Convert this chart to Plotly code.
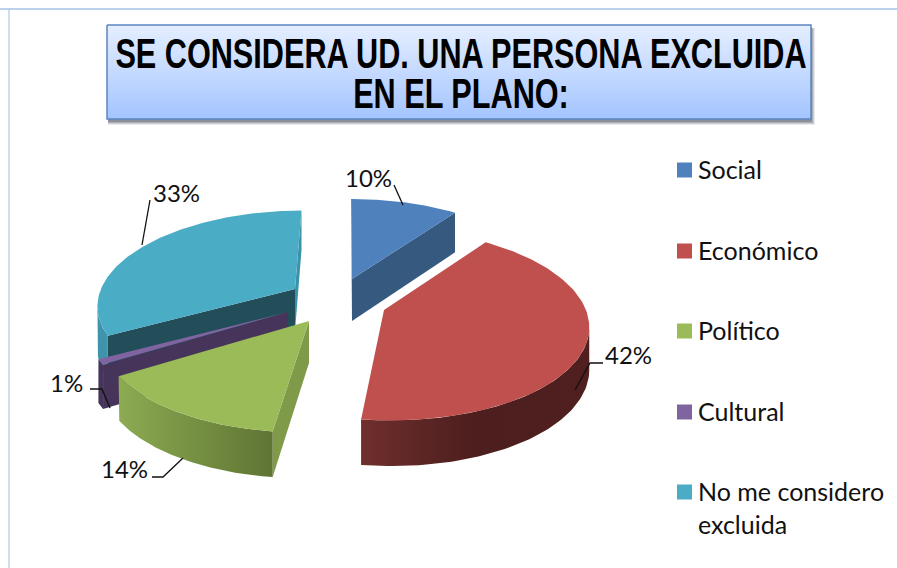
import numpy as np
import plotly.graph_objects as go

TITLE = "SE CONSIDERA UD. UNA PERSONA EXCLUIDA<br>EN EL PLANO:"
categories = ["Social", "Económico", "Político", "Cultural", "No me considero<br>excluida"]
values = [10, 42, 14, 1, 33]

# styling
top_colors = ["#4F81BD", "#C0504D", "#9BBB59", "#8064A2", "#4BACC6"]
cut_a_colors = ["#35597F", "#7A2F2D", "#7F9A49", "#46345A", "#224E5A"]
cut_b_colors = ["#35597F", "#A84441", "#7F9A49", "#46345A", "#3A93AB"]
wall_scales = [
    ["#35597F", "#35597F"],
    ["#6F2F2D", "#4C1E1D", "#4F201F"],
    ["#8CAB52", "#5F7433"],
    ["#46345A", "#46345A"],
    ["#3F93AA", "#3F93AA"],
]
# exploded slice tips on the page, and projection of the tilted disc
tips = [(352, 279), (384, 310), (309, 321), (288, 312), (295, 289)]
radius_scale = [1.0, 1.02, 1.03, 0.99, 0.98]
R, RY, K, DEPTH, XV = 198.0, 92.0, 0.15, 42.0, 345.0
FONT = "Lato, Carlito, Calibri, sans-serif"


def project(tip, theta, rs=1.0):
    front = -np.cos(theta)
    s = 1.0 / (1.0 - K * front)
    return (tip[0] + rs * R * np.sin(theta) * s + (tip[0] - XV) * (s - 1.0),
            tip[1] + rs * RY * front * s, s)


def depth_at(s):
    return DEPTH * (0.5 + 0.5 * s)


fig = go.Figure()


def poly(xs, ys, color=None, gradient=None):
    kw = dict(fillgradient=gradient) if gradient else dict(fillcolor=color)
    fig.add_trace(go.Scatter(x=list(xs), y=list(ys), mode="lines", fill="toself",
                             line=dict(width=0), hoverinfo="skip", showlegend=False, **kw))


# title box
BX0, BX1, BY0, BY1 = 107, 811, 25, 119
for off, alpha in [(6, 0.10), (5, 0.15), (4, 0.2), (3, 0.25)]:
    fig.add_shape(type="rect", x0=BX0 + 1, x1=BX1 + off - 2, y0=BY0 + 3, y1=BY1 + off,
                  line_width=0, fillcolor=f"rgba(40,50,70,{alpha})", layer="below")
fig.add_trace(go.Scatter(
    x=[BX0, BX1, BX1, BX0, BX0], y=[BY0, BY0, BY1, BY1, BY0], mode="lines", fill="toself",
    fillgradient=dict(type="vertical", colorscale=[[0, "#A3C4FF"], [0.5, "#C5DAFF"], [1, "#E4EEFF"]]),
    line=dict(color="#5A86BE", width=1.5), hoverinfo="skip", showlegend=False))

# pie slices, from the values
fractions = np.array(values, float) / sum(values)
ends = np.cumsum(fractions) * 2 * np.pi
starts = ends - fractions * 2 * np.pi
slices = list(zip(starts, ends, tips, top_colors, cut_a_colors, cut_b_colors, wall_scales, radius_scale))

for i in [4, 3, 2, 0, 1]:
    a, b, tip, top, cut_a, cut_b, scale, rs = slices[i]
    th = np.linspace(a, b, 120)
    px, py, ps = project(tip, th, rs)
    dp = depth_at(ps)
    mx, my, _ = project(tip, (a + b) / 2, rs)
    # straight cut faces
    for j, col in ((0, cut_a), (-1, cut_b)):
        ex, ey = px[j] - tip[0], py[j] - tip[1]
        side_interior = ex * (my - tip[1]) - ey * (mx - tip[0])
        side_down = ex * 1.0
        if side_interior * side_down < 0:
            d0 = depth_at(1.0)
            poly([tip[0], px[j], px[j], tip[0]],
                 [tip[1], py[j], py[j] + dp[j], tip[1] + d0], col)
    # outer wall: only the arc facing the viewer
    vis = np.diff(px) < 0
    if vis.any():
        idx = np.where(vis)[0]
        i0, i1 = idx[0], idx[-1] + 1
        xs = np.r_[px[i0:i1 + 1], px[i0:i1 + 1][::-1]]
        ys = np.r_[py[i0:i1 + 1], (py + dp)[i0:i1 + 1][::-1]]
        cs = [[n / (len(scale) - 1), c] for n, c in enumerate(scale)]
        poly(xs, ys, gradient=dict(type="horizontal", colorscale=cs))
    # top face
    poly(np.r_[tip[0], px, tip[0]], np.r_[tip[1], py, tip[1]], top)

# leader lines
leaders = [
    ([394, 403], [185, 205]),
    ([603, 590, 575], [363, 363, 390]),
    ([152, 163, 183], [477, 477, 458]),
    ([90, 102, 110], [389, 389, 408]),
    ([150, 142], [200, 245]),
]
for xs, ys in leaders:
    fig.add_trace(go.Scatter(x=xs, y=ys, mode="lines", line=dict(color="#111111", width=1.3),
                             hoverinfo="skip", showlegend=False))

# data labels
label_pos = [(368, 177), (628, 354), (124, 468), (66, 382), (176, 192)]
for v, (x, y) in zip(values, label_pos):
    fig.add_annotation(x=x, y=y, text=f"{v}%", showarrow=False,
                       font=dict(family=FONT, size=24, color="#111111"))

# legend
legend_y = [170, 251, 331, 412, 492]
for c, col, y in zip(categories, top_colors, legend_y):
    fig.add_trace(go.Scatter(x=[684.5], y=[y], mode="markers",
                             marker=dict(symbol="square", size=15, color=col),
                             name=c.replace("<br>", " "), showlegend=False))
    fig.add_annotation(x=696, y=y - 18, xanchor="left", yanchor="top", align="left", text=c,
                       showarrow=False, font=dict(family=FONT, size=25, color="#111111"))

fig.update_layout(
    width=897, height=568, margin=dict(l=0, r=0, t=0, b=0),
    paper_bgcolor="white", plot_bgcolor="white", showlegend=False,
    title=dict(text=TITLE, x=461 / 897, xanchor="center", xref="paper",
               y=1 - 72 / 568, yanchor="middle", yref="paper",
               font=dict(family="Liberation Sans", size=42, color="#000000", weight="bold")),
    xaxis=dict(range=[0, 897], visible=False, fixedrange=True),
    yaxis=dict(range=[568, 0], visible=False, fixedrange=True),
    shapes=list(fig.layout.shapes) + [
        dict(type="line", x0=0, x1=897, y0=9, y1=9, line=dict(color="#7BA3D6", width=1), layer="below"),
        dict(type="line", x0=9, x1=9, y0=9, y1=568, line=dict(color="#9CC0E8", width=1), layer="below"),
    ],
)
POST = """
document.body.style.margin = '0';
function narrowTitle() {
  var t = document.querySelector('.gtitle');
  if (!t) return;
  var cx = 461;
  t.setAttribute('transform', 'translate(' + cx + ',0) scale(0.73,1) translate(' + (-cx) + ',0)');
  var lines = t.querySelectorAll('tspan.line');
  if (lines.length > 1) {
    lines[0].setAttribute('dy', '0'); lines[1].setAttribute('dy', '0');
    lines[0].setAttribute('y', 68); lines[1].setAttribute('y', 108);
  }
}
narrowTitle(); setTimeout(narrowTitle, 50); setTimeout(narrowTitle, 300);
"""
fig.write_html("out.html", post_script=POST, config=dict(displayModeBar=False))
